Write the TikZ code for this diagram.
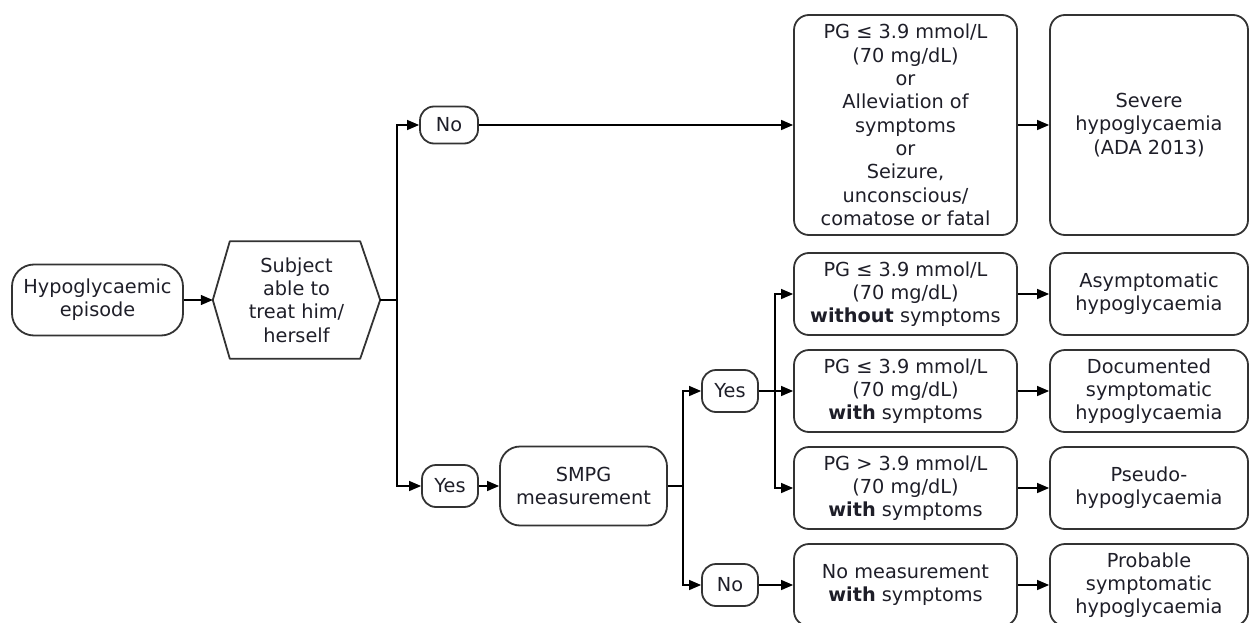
\documentclass[tikz,border=0pt]{standalone}
\usepackage{fontspec}
\setmainfont{DejaVu Sans}
\usetikzlibrary{arrows.meta}
\definecolor{bord}{HTML}{333333}
\definecolor{txt}{HTML}{1E1E28}
\begin{document}
\begin{tikzpicture}[x=1pt,y=-1pt,
  every node/.style={font=\fontsize{19.3}{23.3}\selectfont, text=txt, align=center, inner sep=2pt},
  box/.style={draw=bord, line width=1.8pt, rounded corners=15pt},
  pill/.style={box, rounded corners=14pt, minimum width=56pt, minimum height=42pt},
  wide/.style={box, minimum width=223pt, minimum height=82pt},
  res/.style={box, minimum width=198pt, minimum height=82pt},
  link/.style={line width=1.3pt, draw=black},
  conn/.style={link, -{Triangle[length=12pt,width=10pt]}}]
\useasboundingbox (0,0) rectangle (1252,623);

% nodes
\node[box, rounded corners=22pt, minimum width=171pt, minimum height=71pt] (hypo) at (97.5,300) {Hypoglycaemic\\episode};
\node[minimum width=167pt, minimum height=117pt] (subj) at (296.5,300) {Subject\\able to\\treat him/\\herself};
\draw[draw=bord, line width=1.8pt, line join=round]
  (subj.west) -- ([xshift=17pt]subj.north west) -- ([xshift=-20pt]subj.north east)
  -- (subj.east) -- ([xshift=-20pt]subj.south east) -- ([xshift=17pt]subj.south west) -- cycle;

\node[pill, minimum width=58pt, minimum height=37pt] (no1) at (449,125) {No};
\node[box, minimum width=223pt, minimum height=220pt] (pg0) at (905.5,125)
  {PG ≤ 3.9 mmol/L\\(70 mg/dL)\\or\\Alleviation of\\symptoms\\or\\Seizure,\\unconscious/\\comatose or fatal};
\node[box, minimum width=198pt, minimum height=220pt] (sev) at (1149,125) {Severe\\hypoglycaemia\\(ADA 2013)};

\node[pill] (yes1) at (450,486) {Yes};
\node[box, rounded corners=20pt, minimum width=167pt, minimum height=79pt] (smpg) at (583.5,486) {SMPG\\measurement};
\node[pill] (yes2) at (730,391) {Yes};
\node[pill] (no2) at (730,585) {No};

\node[wide] (pg1) at (905.5,294) {PG ≤ 3.9 mmol/L\\(70 mg/dL)\\\textbf{without} symptoms};
\node[wide] (pg2) at (905.5,391) {PG ≤ 3.9 mmol/L\\(70 mg/dL)\\\textbf{with} symptoms};
\node[wide] (pg3) at (905.5,488) {PG > 3.9 mmol/L\\(70 mg/dL)\\\textbf{with} symptoms};
\node[wide] (pg4) at (905.5,585) {No measurement\\\textbf{with} symptoms};

\node[res] (r1) at (1149,294) {Asymptomatic\\hypoglycaemia};
\node[res] (r2) at (1149,391) {Documented\\symptomatic\\hypoglycaemia};
\node[res] (r3) at (1149,488) {Pseudo-\\hypoglycaemia};
\node[res] (r4) at (1149,585) {Probable\\symptomatic\\hypoglycaemia};

% connectors
\coordinate (j1) at (397,300);
\coordinate (j2) at (683,486);
\coordinate (j3) at (775,391);

\draw[conn] (hypo.east) -- (subj.west);
\draw[link] (subj.east) -- (j1);
\draw[conn] (j1) |- (no1.west);
\draw[conn] (j1) |- (yes1.west);
\draw[conn] (no1.east) -- (pg0.west);
\draw[conn] (pg0.east) -- (sev.west);
\draw[conn] (yes1.east) -- (smpg.west);
\draw[link] (smpg.east) -- (j2);
\draw[conn] (j2) |- (yes2.west);
\draw[conn] (j2) |- (no2.west);
\draw[link] (yes2.east) -- (j3);
\draw[conn] (j3) |- (pg1.west);
\draw[conn] (j3) -- (pg2.west);
\draw[conn] (j3) |- (pg3.west);
\draw[conn] (no2.east) -- (pg4.west);
\draw[conn] (pg1.east) -- (r1.west);
\draw[conn] (pg2.east) -- (r2.west);
\draw[conn] (pg3.east) -- (r3.west);
\draw[conn] (pg4.east) -- (r4.west);
\end{tikzpicture}
\end{document}
